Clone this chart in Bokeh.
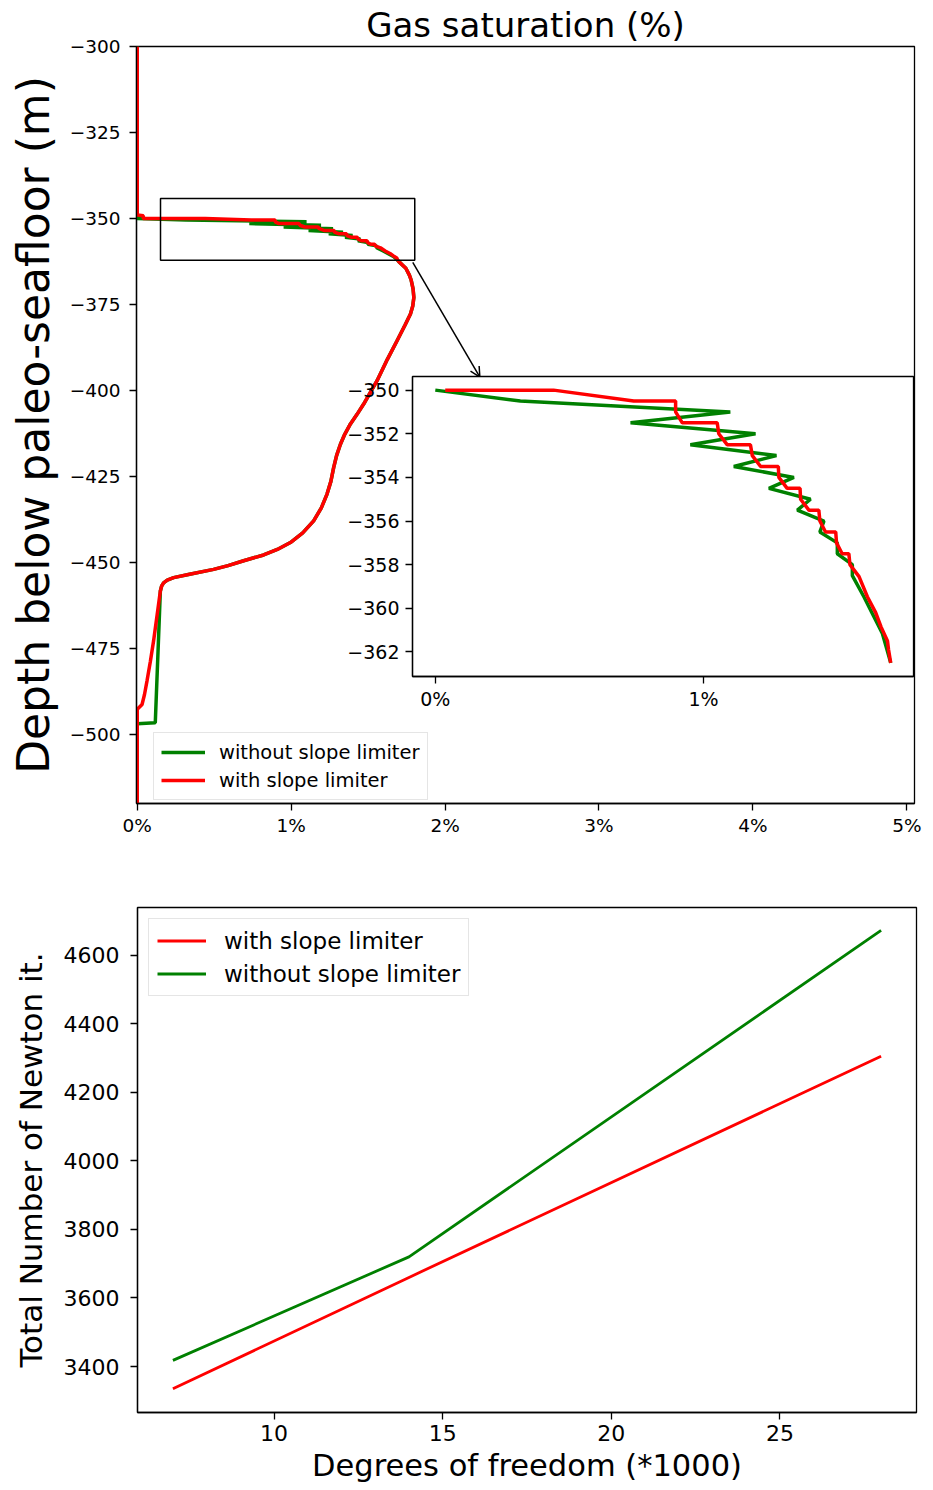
from bokeh.plotting import figure
from bokeh.layouts import column
from bokeh.models import (Legend, LegendItem, Range1d, BoxAnnotation, Arrow, OpenHead)
from bokeh.embed import file_html
from bokeh.resources import INLINE

FONT = "DejaVu Sans"
RED = "#ff0000"
GREEN = "#008000"

# ---------------- top panel: gas saturation (%) vs depth (m) ----------------
# with slope limiter
DEPTH_LIM = [-300.0, -349.0, -349.2, -350.0, -350.0, -350.5, -350.5, -351.0, -351.5, -351.5,
             -352.0, -352.5, -352.5, -353.0, -353.5, -353.5, -354.0, -354.5, -354.5, -355.0,
             -355.5, -355.5, -356.0, -356.5, -356.5, -357.0, -357.5, -357.5, -358.0, -358.55,
             -359.47, -360.2, -360.85, -361.5, -361.9, -362.5, -364.5, -366.5, -368.0, -370.5,
             -373.0, -375.5, -377.8, -381.0, -385.6, -391.0, -397.2, -404.0, -407.0, -409.8,
             -412.8, -415.7, -419.0, -422.5, -426.5, -430.2, -434.2, -438.0, -441.5, -444.3,
             -446.3, -447.9, -449.6, -451.0, -452.1, -453.5, -454.5, -455.2, -456.0, -457.0,
             -458.4, -465.0, -472.9, -478.9, -484.6, -488.5, -491.4, -492.8, -525.0]
SAT_LIM = [0.0, 0.0, 0.04, 0.037, 0.441, 0.740, 0.896, 0.896, 0.921, 1.051,
           1.057, 1.088, 1.175, 1.182, 1.213, 1.279, 1.281, 1.312, 1.360, 1.362,
           1.393, 1.430, 1.434, 1.455, 1.493, 1.496, 1.517, 1.542, 1.546, 1.580,
           1.611, 1.642, 1.662, 1.686, 1.690, 1.698, 1.745, 1.768, 1.780, 1.792,
           1.797, 1.790, 1.775, 1.740, 1.688, 1.625, 1.558, 1.471, 1.428, 1.385,
           1.348, 1.320, 1.295, 1.276, 1.258, 1.233, 1.196, 1.146, 1.075, 0.995,
           0.910, 0.821, 0.691, 0.590, 0.496, 0.340, 0.236, 0.195, 0.171, 0.158,
           0.150, 0.130, 0.106, 0.085, 0.063, 0.047, 0.031, 0.0, 0.0]
# without slope limiter
DEPTH_NOLIM = [-300.0, -350.0, -350.5, -351.0, -351.5, -352.0, -352.5, -353.0, -353.5, -354.0,
               -354.5, -355.0, -355.5, -356.0, -356.5, -357.0, -357.5, -358.0, -358.5, -359.47,
               -360.2, -361.15, -362.5, -364.5, -366.5, -368.0, -370.5, -373.0, -375.5, -377.8,
               -381.0, -385.6, -391.0, -397.2, -404.0, -407.0, -409.8, -412.8, -415.7, -419.0,
               -422.5, -426.5, -430.2, -434.2, -438.0, -441.5, -444.3, -446.3, -447.9, -449.6,
               -451.0, -452.1, -453.5, -454.5, -455.2, -456.0, -457.0, -458.4, -496.7, -497.0,
               -525.0]
SAT_NOLIM = [0.0, 0.0, 0.317, 1.100, 0.728, 1.194, 0.951, 1.272, 1.113, 1.337,
             1.244, 1.399, 1.350, 1.449, 1.434, 1.499, 1.499, 1.555, 1.555, 1.598,
             1.628, 1.667, 1.698, 1.745, 1.768, 1.780, 1.792, 1.797, 1.790, 1.775,
             1.740, 1.688, 1.625, 1.558, 1.471, 1.428, 1.385, 1.348, 1.320, 1.295,
             1.276, 1.258, 1.233, 1.196, 1.146, 1.075, 0.995, 0.910, 0.821, 0.691,
             0.590, 0.496, 0.340, 0.236, 0.195, 0.171, 0.158, 0.150, 0.117, 0.0,
             0.0]

# depth window shown in the zoomed inset
INSET_DEPTHS = (-362.5, -350.0)

TOP_X_TICKS = [0, 1, 2, 3, 4, 5]
TOP_X_LABELS = ["0%", "1%", "2%", "3%", "4%", "5%"]
TOP_Y_TICKS = [-300, -325, -350, -375, -400, -425, -450, -475, -500]
TOP_Y_LABELS = ["\u2212300", "\u2212325", "\u2212350", "\u2212375", "\u2212400",
                "\u2212425", "\u2212450", "\u2212475", "\u2212500"]
INSET_X_TICKS = [0, 1]
INSET_X_LABELS = ["0%", "1%"]
INSET_Y_TICKS = [-350, -352, -354, -356, -358, -360, -362]
INSET_Y_LABELS = ["\u2212350", "\u2212352", "\u2212354", "\u2212356", "\u2212358",
                  "\u2212360", "\u2212362"]

# ---------------- bottom panel: Newton iterations vs degrees of freedom ----------------
DOF = [7, 14, 28]
NEWTON_LIM = [3335, 3660, 4305]
NEWTON_NOLIM = [3418, 3720, 4672]
BOT_X_TICKS = [10, 15, 20, 25]
BOT_Y_TICKS = [3400, 3600, 3800, 4000, 4200, 4400, 4600]

# zoom indicator (main-plot data units)
ZOOM_BOX = dict(left=0.151, right=1.803, top=-344.2, bottom=-362.2)
ZOOM_ARROW = dict(x_start=1.79, y_start=-362.8, x_end=2.226, y_end=-396.2)


def window(sat, depth, lo, hi):
    pts = [(s, d) for s, d in zip(sat, depth) if lo <= d <= hi]
    return [s for s, _ in pts], [d for _, d in pts]


def style_axes(fig, tick_size):
    fig.xgrid.visible = False
    fig.ygrid.visible = False
    fig.outline_line_color = "black"
    fig.outline_line_width = 1.3
    fig.outline_line_alpha = 1.0
    for ax in (fig.xaxis, fig.yaxis):
        ax.major_tick_out = 7
        ax.major_tick_in = 0
        ax.minor_tick_out = 0
        ax.minor_tick_in = 0
        ax.major_tick_line_width = 1.3
        ax.major_tick_line_color = "black"
        ax.axis_line_width = 1.3
        ax.axis_line_color = "black"
        ax.major_label_text_font = FONT
        ax.major_label_text_font_size = tick_size
        ax.major_label_text_color = "black"
        ax.axis_label_text_font = FONT
        ax.axis_label_text_font_style = "normal"
        ax.axis_label_text_color = "black"


# ---- main top figure
p = figure(width=933, height=870, x_range=Range1d(-0.005, 5.05), y_range=Range1d(-520.2, -300),
           output_backend="svg", toolbar_location=None, frame_align=False,
           min_border_left=136, min_border_right=19, min_border_top=45, min_border_bottom=67,
           title="Gas saturation (%)")
p.title.text_font = FONT
p.title.text_font_size = "34px"
p.title.text_font_style = "normal"
p.title.text_color = "black"
p.title.align = "center"
p.title.standoff = 4
style_axes(p, "18.5px")
p.xaxis.ticker = TOP_X_TICKS
p.xaxis.major_label_overrides = dict(zip(TOP_X_TICKS, TOP_X_LABELS))
p.yaxis.ticker = TOP_Y_TICKS
p.yaxis.major_label_overrides = dict(zip(TOP_Y_TICKS, TOP_Y_LABELS))
p.xaxis.major_label_standoff = 4
p.yaxis.major_label_standoff = 9
p.yaxis.axis_label = "Depth below paleo-seafloor (m)"
p.yaxis.axis_label_text_font_size = "44px"
p.yaxis.axis_label_standoff = 8

g1 = p.line(SAT_NOLIM, DEPTH_NOLIM, line_color=GREEN, line_width=3.5)
r1 = p.line(SAT_LIM, DEPTH_LIM, line_color=RED, line_width=3.5)

p.add_layout(BoxAnnotation(fill_alpha=0, line_color="black", line_alpha=1.0, line_width=1.5,
                           **ZOOM_BOX))
p.add_layout(Arrow(end=OpenHead(size=10, line_width=1.5, line_color="black"),
                   line_color="black", line_width=1.5, **ZOOM_ARROW))

leg1 = Legend(items=[LegendItem(label="without slope limiter", renderers=[g1]),
                     LegendItem(label="with slope limiter", renderers=[r1])],
              location=(17, 3), margin=0, padding=7, spacing=4,
              glyph_width=44, glyph_height=24, label_height=24, label_standoff=14,
              label_text_font=FONT, label_text_font_size="19.5px", label_text_color="black",
              border_line_color="#cccccc", border_line_width=1.2,
              background_fill_alpha=0.8)
p.add_layout(leg1)

# ---- inset figure (overlaid on the main panel; its border is transparent)
ins = figure(width=916, height=342, x_range=Range1d(-0.085, 1.783),
             y_range=Range1d(-363.125, -349.375),
             output_backend="svg", toolbar_location=None, frame_align=False,
             min_border_left=412, min_border_right=3, min_border_top=3, min_border_bottom=39,
             margin=(-497, 0, 155, 0))
ins.border_fill_color = None
ins.border_fill_alpha = 0
ins.background_fill_color = "white"
style_axes(ins, "19px")
ins.xaxis.ticker = INSET_X_TICKS
ins.xaxis.major_label_overrides = dict(zip(INSET_X_TICKS, INSET_X_LABELS))
ins.yaxis.ticker = INSET_Y_TICKS
ins.yaxis.major_label_overrides = dict(zip(INSET_Y_TICKS, INSET_Y_LABELS))
ins.xaxis.major_label_standoff = 4
ins.yaxis.major_label_standoff = 6
gx, gy = window(SAT_NOLIM, DEPTH_NOLIM, *INSET_DEPTHS)
rx, ry = window(SAT_LIM, DEPTH_LIM, *INSET_DEPTHS)
ins.line(gx, gy, line_color=GREEN, line_width=3.5)
ins.line(rx, ry, line_color=RED, line_width=3.5)

# ---- bottom figure
q = figure(width=933, height=620, x_range=Range1d(5.95, 29.05), y_range=Range1d(3266, 4739),
           output_backend="svg", toolbar_location=None, frame_align=False,
           min_border_left=137, min_border_right=17, min_border_top=37, min_border_bottom=78)
style_axes(q, "22px")
q.xaxis.ticker = BOT_X_TICKS
q.yaxis.ticker = BOT_Y_TICKS
q.xaxis.major_label_standoff = 5
q.yaxis.major_label_standoff = 11
q.xaxis.axis_label = "Degrees of freedom (*1000)"
q.yaxis.axis_label = "Total Number of Newton it."
q.xaxis.axis_label_text_font_size = "30.5px"
q.yaxis.axis_label_text_font_size = "31px"
q.xaxis.axis_label_standoff = 4
q.yaxis.axis_label_standoff = 12

r2 = q.line(DOF, NEWTON_LIM, line_color=RED, line_width=2.8)
g2 = q.line(DOF, NEWTON_NOLIM, line_color=GREEN, line_width=2.8)
leg2 = Legend(items=[LegendItem(label="with slope limiter", renderers=[r2]),
                     LegendItem(label="without slope limiter", renderers=[g2])],
              location="top_left", margin=11, padding=8, spacing=6,
              glyph_width=49, glyph_height=27, label_height=27, label_standoff=18,
              label_text_font=FONT, label_text_font_size="23px", label_text_color="black",
              border_line_color="#cccccc", border_line_width=1.2,
              background_fill_alpha=0.8)
q.add_layout(leg2)

layout = column(p, ins, q, spacing=0)
open("out.html", "w").write(file_html(layout, INLINE))
